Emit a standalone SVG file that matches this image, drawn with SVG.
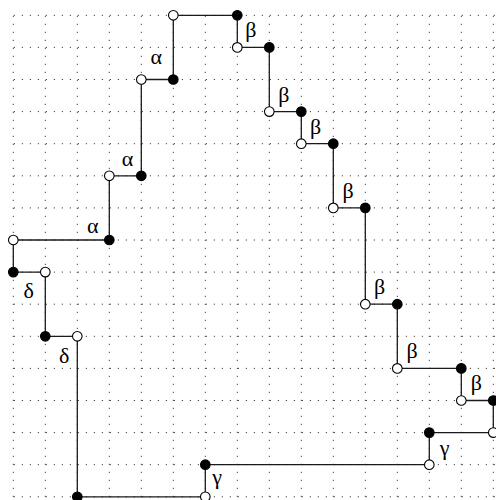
<svg xmlns="http://www.w3.org/2000/svg" width="496" height="500" viewBox="0 0 496 500">
<style>
.grid line{stroke:#444;stroke-width:1;stroke-dasharray:1.2 6.8;stroke-dashoffset:-0.5}
.edge{stroke:#1a1a1a;stroke-width:1.3;fill:none}
.open{fill:#fff;stroke:#000;stroke-width:1.1}
.fill{fill:#000;stroke:#000;stroke-width:1.1}
.lbl{font-family:"Liberation Serif","DejaVu Serif",serif;font-size:22px;fill:#000;text-anchor:middle}
</style>
<rect width="496" height="500" fill="#fff"/>
<g class="grid">
<line x1="13.3" y1="15.3" x2="495" y2="15.3"/>
<line x1="13.3" y1="47.4" x2="495" y2="47.4"/>
<line x1="13.3" y1="79.5" x2="495" y2="79.5"/>
<line x1="13.3" y1="111.6" x2="495" y2="111.6"/>
<line x1="13.3" y1="143.7" x2="495" y2="143.7"/>
<line x1="13.3" y1="175.8" x2="495" y2="175.8"/>
<line x1="13.3" y1="207.9" x2="495" y2="207.9"/>
<line x1="13.3" y1="240" x2="495" y2="240"/>
<line x1="13.3" y1="272.1" x2="495" y2="272.1"/>
<line x1="13.3" y1="304.2" x2="495" y2="304.2"/>
<line x1="13.3" y1="336.3" x2="495" y2="336.3"/>
<line x1="13.3" y1="368.4" x2="495" y2="368.4"/>
<line x1="13.3" y1="400.5" x2="495" y2="400.5"/>
<line x1="13.3" y1="432.6" x2="495" y2="432.6"/>
<line x1="13.3" y1="464.7" x2="495" y2="464.7"/>
<line x1="13.3" y1="496.8" x2="495" y2="496.8"/>
<line x1="13.3" y1="15.3" x2="13.3" y2="500"/>
<line x1="45.3" y1="15.3" x2="45.3" y2="500"/>
<line x1="77.3" y1="15.3" x2="77.3" y2="500"/>
<line x1="109.3" y1="15.3" x2="109.3" y2="500"/>
<line x1="141.3" y1="15.3" x2="141.3" y2="500"/>
<line x1="173.3" y1="15.3" x2="173.3" y2="500"/>
<line x1="205.3" y1="15.3" x2="205.3" y2="500"/>
<line x1="237.3" y1="15.3" x2="237.3" y2="500"/>
<line x1="269.3" y1="15.3" x2="269.3" y2="500"/>
<line x1="301.3" y1="15.3" x2="301.3" y2="500"/>
<line x1="333.3" y1="15.3" x2="333.3" y2="500"/>
<line x1="365.3" y1="15.3" x2="365.3" y2="500"/>
<line x1="397.3" y1="15.3" x2="397.3" y2="500"/>
<line x1="429.3" y1="15.3" x2="429.3" y2="500"/>
<line x1="461.3" y1="15.3" x2="461.3" y2="500"/>
<line x1="493.3" y1="15.3" x2="493.3" y2="500"/>
</g>
<g id="connectors">
<path class="edge" d="M13.3 240V272.1"/>
<path class="edge" d="M13.3 272.1H45.3"/>
<path class="edge" d="M45.3 272.1V336.3"/>
<path class="edge" d="M45.3 336.3H77.3"/>
<path class="edge" d="M77.3 336.3V496.8"/>
<path class="edge" d="M77.3 496.8H205.3"/>
<path class="edge" d="M205.3 496.8V464.7"/>
<path class="edge" d="M205.3 464.7H429.3"/>
<path class="edge" d="M429.3 464.7V432.6"/>
<path class="edge" d="M429.3 432.6H493.3"/>
<path class="edge" d="M493.3 432.6V400.5"/>
<path class="edge" d="M493.3 400.5H461.3"/>
<path class="edge" d="M461.3 400.5V368.4"/>
<path class="edge" d="M461.3 368.4H397.3"/>
<path class="edge" d="M397.3 368.4V304.2"/>
<path class="edge" d="M397.3 304.2H365.3"/>
<path class="edge" d="M365.3 304.2V207.9"/>
<path class="edge" d="M365.3 207.9H333.3"/>
<path class="edge" d="M333.3 207.9V143.7"/>
<path class="edge" d="M333.3 143.7H301.3"/>
<path class="edge" d="M301.3 143.7V111.6"/>
<path class="edge" d="M301.3 111.6H269.3"/>
<path class="edge" d="M269.3 111.6V47.4"/>
<path class="edge" d="M269.3 47.4H237.3"/>
<path class="edge" d="M237.3 47.4V15.3"/>
<path class="edge" d="M237.3 15.3H173.3"/>
<path class="edge" d="M173.3 15.3V79.5"/>
<path class="edge" d="M173.3 79.5H141.3"/>
<path class="edge" d="M141.3 79.5V175.8"/>
<path class="edge" d="M141.3 175.8H109.3"/>
<path class="edge" d="M109.3 175.8V240"/>
<path class="edge" d="M109.3 240H13.3"/>
<g class="lbl">
<text x="156.3" y="64">α</text>
<text x="127.5" y="165.5">α</text>
<text x="92.7" y="233">α</text>
<text x="250.8" y="37">β</text>
<text x="283.8" y="102">β</text>
<text x="315.7" y="133.5">β</text>
<text x="348" y="197.5">β</text>
<text x="379.7" y="293.5">β</text>
<text x="412" y="357.5">β</text>
<text x="476.3" y="390">β</text>
<text x="444.5" y="454.5">γ</text>
<text x="217.2" y="484">γ</text>
<text x="28.7" y="298">δ</text>
<text x="64.2" y="363">δ</text>
</g>
</g>
<g id="n0"><circle class="open" cx="13.3" cy="240" r="4.8"/></g>
<g id="n1"><circle class="fill" cx="13.3" cy="272.1" r="4.8"/></g>
<g id="n2"><circle class="open" cx="45.3" cy="272.1" r="4.8"/></g>
<g id="n3"><circle class="fill" cx="45.3" cy="336.3" r="4.8"/></g>
<g id="n4"><circle class="open" cx="77.3" cy="336.3" r="4.8"/></g>
<g id="n5"><circle class="fill" cx="77.3" cy="496.8" r="4.8"/></g>
<g id="n6"><circle class="open" cx="205.3" cy="496.8" r="4.8"/></g>
<g id="n7"><circle class="fill" cx="205.3" cy="464.7" r="4.8"/></g>
<g id="n8"><circle class="open" cx="429.3" cy="464.7" r="4.8"/></g>
<g id="n9"><circle class="fill" cx="429.3" cy="432.6" r="4.8"/></g>
<g id="n10"><circle class="open" cx="493.3" cy="432.6" r="4.8"/></g>
<g id="n11"><circle class="fill" cx="493.3" cy="400.5" r="4.8"/></g>
<g id="n12"><circle class="open" cx="461.3" cy="400.5" r="4.8"/></g>
<g id="n13"><circle class="fill" cx="461.3" cy="368.4" r="4.8"/></g>
<g id="n14"><circle class="open" cx="397.3" cy="368.4" r="4.8"/></g>
<g id="n15"><circle class="fill" cx="397.3" cy="304.2" r="4.8"/></g>
<g id="n16"><circle class="open" cx="365.3" cy="304.2" r="4.8"/></g>
<g id="n17"><circle class="fill" cx="365.3" cy="207.9" r="4.8"/></g>
<g id="n18"><circle class="open" cx="333.3" cy="207.9" r="4.8"/></g>
<g id="n19"><circle class="fill" cx="333.3" cy="143.7" r="4.8"/></g>
<g id="n20"><circle class="open" cx="301.3" cy="143.7" r="4.8"/></g>
<g id="n21"><circle class="fill" cx="301.3" cy="111.6" r="4.8"/></g>
<g id="n22"><circle class="open" cx="269.3" cy="111.6" r="4.8"/></g>
<g id="n23"><circle class="fill" cx="269.3" cy="47.4" r="4.8"/></g>
<g id="n24"><circle class="open" cx="237.3" cy="47.4" r="4.8"/></g>
<g id="n25"><circle class="fill" cx="237.3" cy="15.3" r="4.8"/></g>
<g id="n26"><circle class="open" cx="173.3" cy="15.3" r="4.8"/></g>
<g id="n27"><circle class="fill" cx="173.3" cy="79.5" r="4.8"/></g>
<g id="n28"><circle class="open" cx="141.3" cy="79.5" r="4.8"/></g>
<g id="n29"><circle class="fill" cx="141.3" cy="175.8" r="4.8"/></g>
<g id="n30"><circle class="open" cx="109.3" cy="175.8" r="4.8"/></g>
<g id="n31"><circle class="fill" cx="109.3" cy="240" r="4.8"/></g>
</svg>
